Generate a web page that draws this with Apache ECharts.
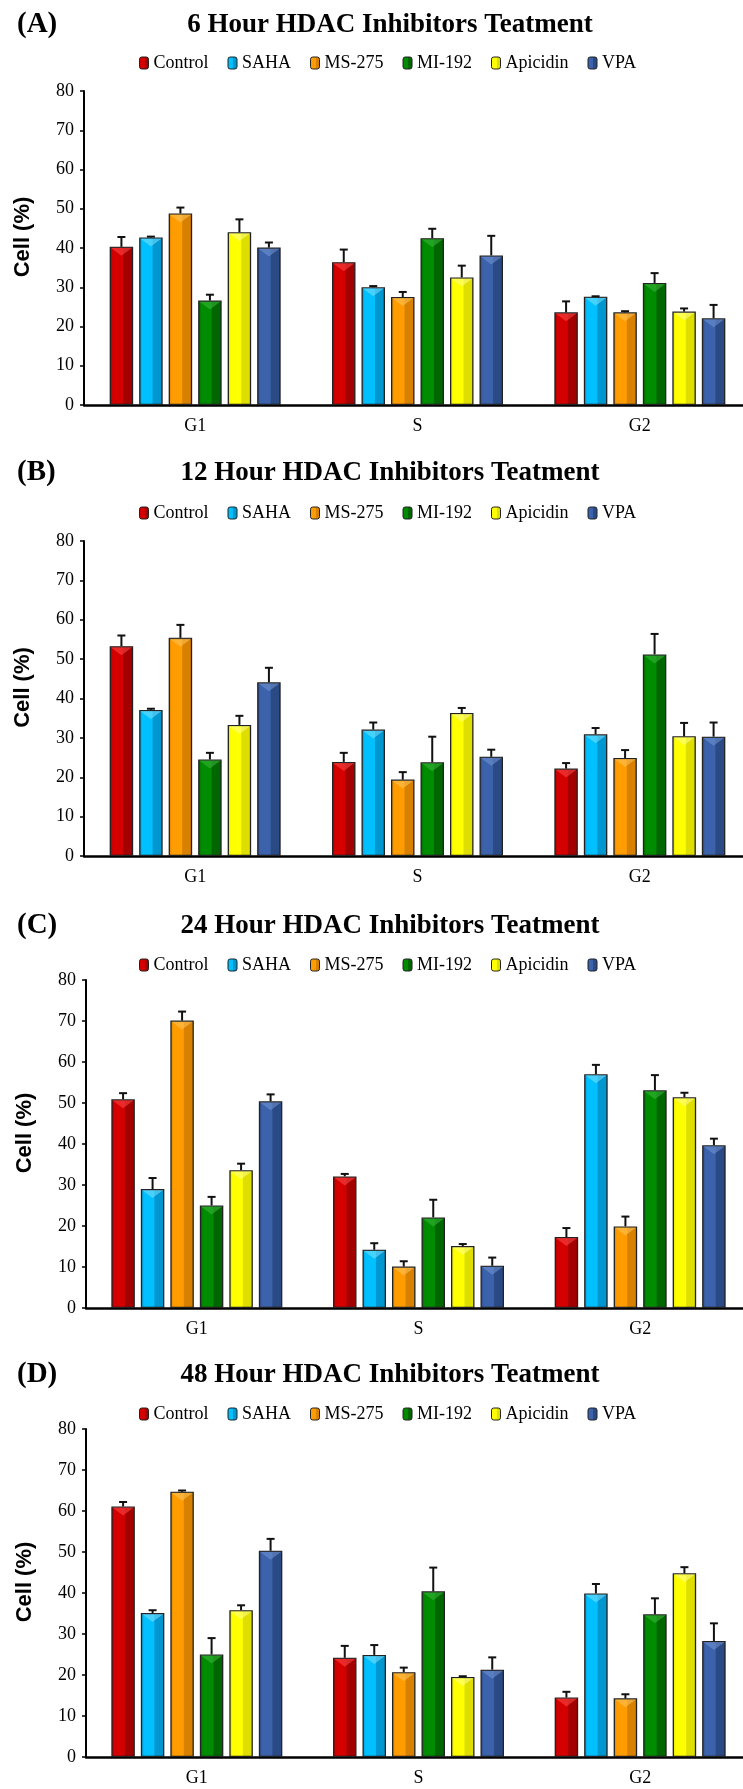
<!DOCTYPE html>
<html>
<head>
<meta charset="utf-8">
<script src="https://cdn.jsdelivr.net/npm/echarts@6/dist/echarts.min.js"></script>
<style>
  html, body { margin: 0; padding: 0; background: #fff; }
  #chart { width: 743px; height: 1789px; }
</style>
</head>
<body>
<div id="chart"></div>
<script>
// cell cycle phases and treatments
var phases = ["G1", "S", "G2"];
var treatments = ["Control", "SAHA", "MS-275", "MI-192", "Apicidin", "VPA"];
var panelLetters = ["(A)", "(B)", "(C)", "(D)"];
var panelTitles = [
  "6 Hour HDAC Inhibitors Teatment",
  "12 Hour HDAC Inhibitors Teatment",
  "24 Hour HDAC Inhibitors Teatment",
  "48 Hour HDAC Inhibitors Teatment"
];
var yTicks = [0, 10, 20, 30, 40, 50, 60, 70, 80];

// one row per treatment, values for G1, S, G2
var means6h = [
  [40.3, 36.4, 23.6],
  [42.7, 30.0, 27.6],
  [48.8, 27.5, 23.6],
  [26.6, 42.5, 31.1],
  [44.0, 32.5, 23.8],
  [40.1, 38.1, 22.1]
];
var errors6h = [
  [2.5, 3.2, 2.8],
  [0.2, 0.3, 0.1],
  [1.5, 1.3, 0.3],
  [1.5, 2.4, 2.5],
  [3.3, 3.0, 0.8],
  [1.3, 5.0, 3.4]
];
var means12h = [
  [53.3, 23.9, 22.2],
  [37.1, 32.1, 30.9],
  [55.4, 19.4, 24.9],
  [24.5, 23.8, 51.2],
  [33.3, 36.3, 30.4],
  [44.1, 25.2, 30.3]
];
var errors12h = [
  [2.7, 2.3, 1.4],
  [0.3, 1.8, 1.6],
  [3.3, 1.9, 2.0],
  [1.7, 6.5, 5.2],
  [2.3, 1.3, 3.4],
  [3.7, 1.8, 3.6]
];
var means24h = [
  [50.9, 32.1, 17.3],
  [29.0, 14.2, 57.0],
  [70.1, 10.1, 19.9],
  [25.0, 22.1, 53.1],
  [33.6, 15.1, 51.4],
  [50.4, 10.3, 39.7]
];
var errors24h = [
  [1.5, 0.6, 2.2],
  [2.7, 1.6, 2.3],
  [2.2, 1.3, 2.4],
  [2.1, 4.3, 3.7],
  [1.6, 0.5, 1.1],
  [1.7, 2.0, 1.6]
];
var means48h = [
  [61.1, 24.2, 14.5],
  [35.1, 24.9, 39.9],
  [64.7, 20.7, 14.3],
  [25.0, 40.4, 34.8],
  [35.8, 19.5, 44.8],
  [50.3, 21.3, 28.3]
];
var errors48h = [
  [1.1, 2.9, 1.4],
  [0.7, 2.4, 2.3],
  [0.3, 1.1, 1.0],
  [4.0, 5.8, 3.9],
  [1.2, 0.2, 1.5],
  [2.9, 3.0, 4.3]
];

var allMeans = [means6h, means12h, means24h, means48h];
var allErrors = [errors6h, errors12h, errors24h, errors48h];

// base / dark / light shade for each treatment
var palette = [
  ["#d40000", "#a30000", "#ff4a4a"],
  ["#00c0ff", "#0096cf", "#7ee0ff"],
  ["#ff9c00", "#d88000", "#ffc760"],
  ["#008c00", "#006600", "#3cb83c"],
  ["#ffff00", "#dede00", "#ffff90"],
  ["#3b62aa", "#2a4a86", "#7395d4"]
];

// panel layout (pixels)
var layout = [
  { title: 7, legend: 49, top: 91, height: 314, left: 84, width: 667 },
  { title: 455, legend: 499, top: 541, height: 315, left: 84, width: 667 },
  { title: 908, legend: 951, top: 980, height: 328, left: 86, width: 665 },
  { title: 1357, legend: 1400, top: 1429, height: 328, left: 86, width: 665 }
];

var barWidth = 23.5;
var barGap = 6;
var pitch = barWidth + barGap;
var serif = "Liberation Serif";

function barColor(i) {
  var c = palette[i];
  return new echarts.graphic.LinearGradient(0, 0, 1, 0, [
    { offset: 0, color: c[1] },
    { offset: 0.14, color: c[0] },
    { offset: 0.55, color: c[0] },
    { offset: 0.6, color: c[1] },
    { offset: 1, color: c[1] }
  ]);
}

function errorRender(params, api) {
  var cat = api.value(0);
  var val = api.value(1);
  var err = api.value(2);
  var idx = api.value(3);
  var base = api.coord([cat, val]);
  var top = api.coord([cat, val + err]);
  var x = base[0] + (idx - 2.5) * pitch;
  var hw = barWidth / 2 - 1;
  return {
    type: "group",
    children: [
      {
        type: "polygon",
        shape: { points: [[x - hw, base[1] + 1], [x + hw, base[1] + 1], [x, base[1] + 9]] },
        style: { fill: palette[idx][2], opacity: 0.55 }
      },
      {
        type: "line",
        shape: { x1: x, y1: base[1], x2: x, y2: top[1] },
        style: { stroke: "#111", lineWidth: 2 }
      },
      {
        type: "line",
        shape: { x1: x - 4, y1: top[1], x2: x + 4, y2: top[1] },
        style: { stroke: "#111", lineWidth: 2 }
      }
    ]
  };
}

var titles = [];
var legends = [];
var grids = [];
var xAxes = [];
var yAxes = [];
var series = [];

layout.forEach(function(p, k) {
  titles.push({
    text: panelLetters[k],
    left: 12,
    top: p.title - 2,
    textStyle: { fontFamily: serif, fontWeight: "bold", fontSize: 29, color: "#000" }
  });
  titles.push({
    text: panelTitles[k],
    left: 385,
    textAlign: "center",
    top: p.title,
    textStyle: { fontFamily: serif, fontWeight: "bold", fontSize: 27, color: "#000" }
  });
  legends.push({
    data: treatments,
    top: p.legend,
    left: 134,
    itemWidth: 9,
    itemHeight: 12,
    itemGap: 19,
    selectedMode: false,
    itemStyle: { borderColor: "#222", borderWidth: 1 },
    textStyle: { fontFamily: serif, fontSize: 18, color: "#000" }
  });
  grids.push({
    left: p.left,
    top: p.top,
    width: p.width,
    height: p.height,
    outerBoundsMode: "none"
  });
  xAxes.push({
    type: "category",
    gridIndex: k,
    data: phases,
    axisLine: { lineStyle: { color: "#000", width: 2.5 } },
    axisTick: { alignWithLabel: true, length: 4, lineStyle: { color: "#000", width: 1.5 } },
    axisLabel: { fontFamily: serif, fontSize: 18, color: "#000", margin: 12 }
  });
  yAxes.push({
    type: "value",
    gridIndex: k,
    min: yTicks[0],
    max: yTicks[yTicks.length - 1],
    interval: 10,
    name: "Cell (%)",
    nameLocation: "middle",
    nameGap: 50,
    nameTextStyle: {
      fontFamily: "Liberation Sans",
      fontWeight: "bold",
      fontSize: 22,
      color: "#000",
      padding: [0, 0, 0, 22]
    },
    splitLine: { show: false },
    axisLine: { show: true, lineStyle: { color: "#000", width: 2 } },
    axisTick: { show: true, length: 4, lineStyle: { color: "#000", width: 1.5 } },
    axisLabel: { fontFamily: serif, fontSize: 18, color: "#000", margin: 10 }
  });

  var errData = [];
  treatments.forEach(function(name, i) {
    series.push({
      name: name,
      type: "bar",
      xAxisIndex: k,
      yAxisIndex: k,
      data: allMeans[k][i],
      barWidth: barWidth,
      barGap: (barGap / barWidth * 100) + "%",
      itemStyle: { color: barColor(i), borderColor: "#222", borderWidth: 1.3 }
    });
    allMeans[k][i].forEach(function(v, c) {
      errData.push([c, v, allErrors[k][i][c], i]);
    });
  });
  series.push({
    type: "custom",
    xAxisIndex: k,
    yAxisIndex: k,
    renderItem: errorRender,
    encode: { x: 0, y: 1 },
    data: errData,
    z: 10,
    silent: true
  });
});

var echart = echarts.init(document.getElementById("chart"));
echart.setOption({
  animation: false,
  backgroundColor: "#fff",
  title: titles,
  legend: legends,
  grid: grids,
  xAxis: xAxes,
  yAxis: yAxes,
  series: series
});
</script>
</body>
</html>
